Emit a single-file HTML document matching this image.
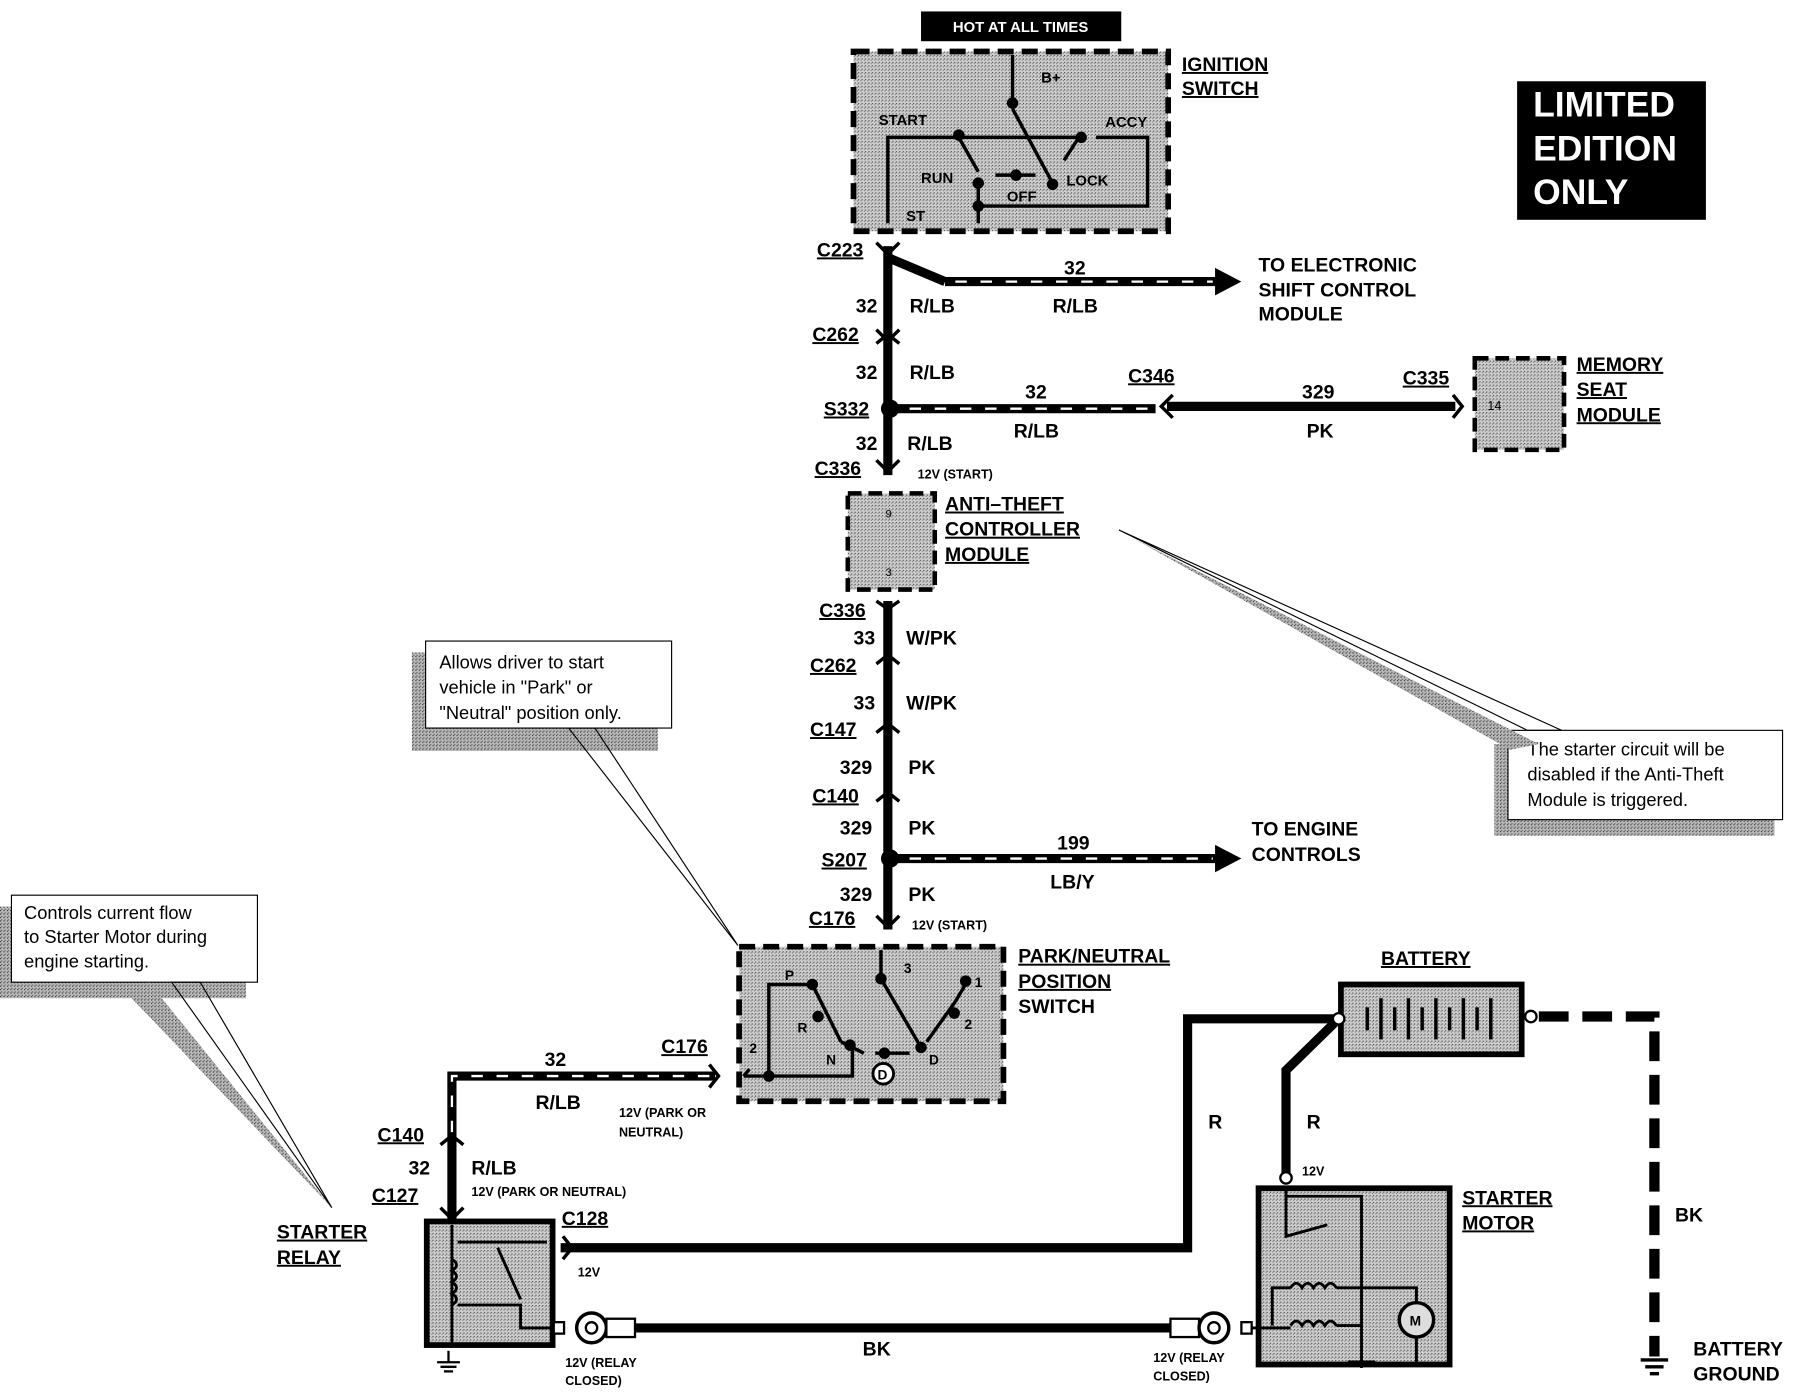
<!DOCTYPE html>
<html><head><meta charset="utf-8"><style>
html,body{margin:0;padding:0;background:#fff;}
svg{display:block}
text{font-family:"Liberation Sans",Arial,sans-serif;font-weight:bold;fill:#000}
</style></head><body>
<svg width="1794" height="1392" viewBox="0 0 1568 1216" preserveAspectRatio="none" xmlns="http://www.w3.org/2000/svg">
<defs>
<pattern id="dot" width="3" height="3" patternUnits="userSpaceOnUse"><rect width="3" height="3" fill="#d0d0d0"/><rect width="1" height="1" fill="#444"/><rect x="2" y="1" width="1" height="1" fill="#777"/></pattern>
<pattern id="hatch" width="3" height="3" patternUnits="userSpaceOnUse"><rect width="3" height="3" fill="#bbb"/><rect width="1" height="1" fill="#333"/><rect x="1" y="2" width="1" height="1" fill="#555"/></pattern>
</defs>

<rect x="805" y="10" width="175" height="26" fill="#000"/>
<text x="892" y="28" font-size="13" text-anchor="middle" style="fill:#fff">HOT AT ALL TIMES</text>

<rect x="746" y="45" width="275" height="157" fill="url(#dot)" stroke="#000" stroke-width="5" stroke-dasharray="14,7"/>
<g stroke="#000" stroke-width="3" fill="none">
<line x1="885" y1="48" x2="885" y2="95"/><line x1="885" y1="95" x2="920" y2="160"/>
<polyline points="776,195 776,120 945,120"/>
<polyline points="855,160 855,180 1003,180 1003,120 958,120"/>
<line x1="855" y1="160" x2="855" y2="195"/>
<line x1="838" y1="120" x2="855" y2="150"/>
<line x1="870" y1="153" x2="905" y2="153"/>
<line x1="943" y1="120" x2="930" y2="140"/>
</g>
<g fill="#000"><circle cx="885" cy="90" r="5"/><circle cx="838" cy="118" r="5"/><circle cx="855" cy="160" r="5"/><circle cx="888" cy="153" r="5"/><circle cx="920" cy="161" r="5"/><circle cx="945" cy="120" r="5"/><circle cx="855" cy="180" r="5"/></g>
<g font-size="13"><text x="910" y="72">B+</text><text x="768" y="109">START</text><text x="966" y="111">ACCY</text><text x="805" y="160">RUN</text><text x="932" y="162">LOCK</text><text x="880" y="176">OFF</text><text x="792" y="193">ST</text></g>
<g font-size="17" text-decoration="underline"><text x="1033" y="62">IGNITION</text><text x="1033" y="83">SWITCH</text></g>

<rect x="1326" y="71" width="165" height="121" fill="#000"/>
<g font-size="31" style="fill:#fff"><text x="1340" y="102" style="fill:#fff">LIMITED</text><text x="1340" y="140" style="fill:#fff">EDITION</text><text x="1340" y="178" style="fill:#fff">ONLY</text></g>

<g stroke="#000" stroke-width="8" fill="none">
<line x1="776" y1="215" x2="776" y2="415"/>
<line x1="776" y1="525" x2="776" y2="812"/>
<line x1="776" y1="225" x2="826" y2="246"/>
<line x1="826" y1="246" x2="1068" y2="246"/>
<line x1="776" y1="357" x2="1010" y2="357"/>
<line x1="1020" y1="355" x2="1272" y2="355"/>
<line x1="776" y1="750" x2="1068" y2="750"/>
<polyline points="625,940 395,940 395,1065"/>
<polyline points="490,1090 1038,1090 1038,890 1170,890"/>
<polyline points="1170,890 1124,935 1124,1025"/>
<line x1="555" y1="1160" x2="1025" y2="1160"/>
</g>
<g stroke="#fff" stroke-width="2" stroke-dasharray="10,12" fill="none">
<line x1="835" y1="246" x2="1060" y2="246"/>
<line x1="795" y1="357" x2="1005" y2="357"/>
<line x1="795" y1="750" x2="1060" y2="750"/>
<polyline points="620,940 395,940 395,1000"/>
</g>
<g fill="#000">
<polygon points="1062,234 1085,246 1062,258"/><polygon points="1062,738 1085,750 1062,762"/>
<circle cx="778" cy="357" r="8"/><circle cx="778" cy="750" r="8"/>
</g>
<g stroke="#000" stroke-width="3" fill="none">
<polyline points="766,212 776,222 786,212"/><polyline points="766,288 776,298 786,288"/><polyline points="766,300 776,292 786,300"/>
<polyline points="766,402 776,412 786,402"/>
<polyline points="766,525 776,532 786,525"/><polyline points="766,580 776,572 786,580"/><polyline points="766,640 776,632 786,640"/>
<polyline points="766,700 776,692 786,700"/><polyline points="766,800 776,810 786,800"/>
<polyline points="1025,345 1015,355 1025,365"/><polyline points="1270,345 1278,355 1270,365"/>
<polyline points="620,930 628,940 620,950"/>
<polyline points="385,1000 395,992 405,1000"/><polyline points="385,1055 395,1065 405,1055"/>
<polyline points="492,1080 500,1090 492,1100"/>
</g>
<g font-size="17">
<text x="714" y="224" text-decoration="underline">C223</text>
<text x="748" y="273">32</text><text x="795" y="273">R/LB</text>
<text x="930" y="240">32</text><text x="920" y="273">R/LB</text>
<text x="1100" y="237">TO ELECTRONIC</text><text x="1100" y="259">SHIFT CONTROL</text><text x="1100" y="280">MODULE</text>
<text x="710" y="298" text-decoration="underline">C262</text>
<text x="748" y="331">32</text><text x="795" y="331">R/LB</text>
<text x="720" y="363" text-decoration="underline">S332</text>
<text x="896" y="348">32</text><text x="886" y="382">R/LB</text>
<text x="986" y="334" text-decoration="underline">C346</text>
<text x="1138" y="348">329</text><text x="1142" y="382">PK</text>
<text x="1226" y="336" text-decoration="underline">C335</text>
<text x="748" y="393">32</text><text x="793" y="393">R/LB</text>
<text x="712" y="415" text-decoration="underline">C336</text>
<text x="1378" y="324" text-decoration="underline">MEMORY</text><text x="1378" y="346" text-decoration="underline">SEAT</text><text x="1378" y="368" text-decoration="underline">MODULE</text>
<text x="826" y="446" text-decoration="underline">ANTI–THEFT</text><text x="826" y="468" text-decoration="underline">CONTROLLER</text><text x="826" y="490" text-decoration="underline">MODULE</text>
<text x="716" y="539" text-decoration="underline">C336</text>
<text x="746" y="563">33</text><text x="792" y="563">W/PK</text>
<text x="708" y="587" text-decoration="underline">C262</text>
<text x="746" y="620">33</text><text x="792" y="620">W/PK</text>
<text x="708" y="643" text-decoration="underline">C147</text>
<text x="734" y="676">329</text><text x="794" y="676">PK</text>
<text x="710" y="701" text-decoration="underline">C140</text>
<text x="734" y="729">329</text><text x="794" y="729">PK</text>
<text x="718" y="757" text-decoration="underline">S207</text>
<text x="924" y="742">199</text><text x="918" y="776">LB/Y</text>
<text x="1094" y="730">TO ENGINE</text><text x="1094" y="752">CONTROLS</text>
<text x="734" y="787">329</text><text x="794" y="787">PK</text>
<text x="707" y="808" text-decoration="underline">C176</text>
<text x="890" y="841" text-decoration="underline">PARK/NEUTRAL</text><text x="890" y="863" text-decoration="underline">POSITION</text><text x="890" y="885">SWITCH</text>
<text x="476" y="931">32</text><text x="468" y="969">R/LB</text>
<text x="578" y="920" text-decoration="underline">C176</text>
<text x="330" y="997" text-decoration="underline">C140</text>
<text x="357" y="1026">32</text><text x="412" y="1026">R/LB</text>
<text x="325" y="1050" text-decoration="underline">C127</text>
<text x="491" y="1070" text-decoration="underline">C128</text>
<text x="242" y="1082" text-decoration="underline">STARTER</text><text x="242" y="1104" text-decoration="underline">RELAY</text>
<text x="1207" y="843" text-decoration="underline">BATTERY</text>
<text x="1056" y="986">R</text><text x="1142" y="986">R</text>
<text x="1278" y="1052" text-decoration="underline">STARTER</text><text x="1278" y="1074" text-decoration="underline">MOTOR</text>
<text x="1464" y="1067">BK</text>
<text x="754" y="1184">BK</text>
<text x="1480" y="1184">BATTERY</text><text x="1480" y="1206">GROUND</text>
</g>
<g font-size="11">
<text x="802" y="418">12V (START)</text><text x="797" y="812">12V (START)</text>
<text x="541" y="976">12V (PARK OR</text><text x="541" y="993">NEUTRAL)</text>
<text x="412" y="1045">12V (PARK OR NEUTRAL)</text>
<text x="505" y="1115">12V</text><text x="1138" y="1027">12V</text>
<text x="494" y="1194">12V (RELAY</text><text x="494" y="1210">CLOSED)</text>
<text x="1008" y="1190">12V (RELAY</text><text x="1008" y="1206">CLOSED)</text>
</g>

<rect x="1289" y="313" width="78" height="80" fill="url(#dot)" stroke="#000" stroke-width="4" stroke-dasharray="12,6"/>
<text x="1300" y="358" font-size="11" style="font-weight:normal">14</text>
<rect x="741" y="431" width="76" height="84" fill="url(#dot)" stroke="#000" stroke-width="4" stroke-dasharray="12,6"/>
<text x="774" y="452" font-size="10" style="font-weight:normal">9</text><text x="774" y="503" font-size="10" style="font-weight:normal">3</text>

<rect x="646" y="827" width="231" height="135" fill="url(#dot)" stroke="#000" stroke-width="5" stroke-dasharray="14,7"/>
<g stroke="#000" stroke-width="3" fill="none">
<line x1="770" y1="830" x2="770" y2="855"/><line x1="770" y1="855" x2="805" y2="915"/>
<polyline points="650,940 672,940 672,860 710,860"/>
<polyline points="672,940 745,940 745,913"/>
<line x1="710" y1="860" x2="735" y2="910"/><line x1="735" y1="910" x2="755" y2="920"/>
<line x1="765" y1="920" x2="795" y2="920"/>
<line x1="810" y1="910" x2="835" y2="875"/><line x1="835" y1="875" x2="845" y2="858"/>
<line x1="655" y1="934" x2="650" y2="940"/>
</g>
<g fill="#000"><circle cx="770" cy="855" r="5"/><circle cx="710" cy="860" r="5"/><circle cx="715" cy="888" r="5"/><circle cx="743" cy="913" r="5"/><circle cx="773" cy="920" r="5"/><circle cx="805" cy="915" r="5"/><circle cx="834" cy="885" r="5"/><circle cx="844" cy="857" r="5"/><circle cx="672" cy="940" r="5"/></g>
<circle cx="772" cy="938" r="9" fill="#fff" stroke="#000" stroke-width="2.5"/><text x="767" y="943" font-size="12">D</text>
<g font-size="12"><text x="686" y="856">P</text><text x="790" y="850">3</text><text x="852" y="862">1</text><text x="697" y="902">R</text><text x="843" y="899">2</text><text x="655" y="920">2</text><text x="722" y="930">N</text><text x="812" y="930">D</text></g>

<rect x="373" y="1067" width="110" height="108" fill="url(#dot)" stroke="#000" stroke-width="5"/>
<g stroke="#000" stroke-width="2.5" fill="none">
<polyline points="395,1070 395,1175"/><path d="M395,1100 q8,5 0,10 q8,5 0,10 q8,5 0,10 q8,5 0,10"/>
<polyline points="400,1085 478,1085"/><line x1="435" y1="1090" x2="455" y2="1135"/>
<polyline points="400,1140 455,1140 455,1160 483,1160"/>
</g>
<g stroke="#000" stroke-width="2" fill="none"><line x1="392" y1="1180" x2="392" y2="1190"/><line x1="382" y1="1190" x2="402" y2="1190"/><line x1="385" y1="1194" x2="399" y2="1194"/><line x1="388" y1="1198" x2="396" y2="1198"/></g>
<rect x="484" y="1155" width="9" height="10" fill="#fff" stroke="#000" stroke-width="2"/>
<circle cx="517" cy="1160" r="13" fill="#fff" stroke="#000" stroke-width="3"/><circle cx="517" cy="1160" r="5" fill="#fff" stroke="#000" stroke-width="2"/>
<rect x="530" y="1152" width="25" height="16" fill="#fff" stroke="#000" stroke-width="2"/>
<rect x="1023" y="1152" width="25" height="16" fill="#fff" stroke="#000" stroke-width="2"/>
<circle cx="1061" cy="1160" r="13" fill="#fff" stroke="#000" stroke-width="3"/><circle cx="1061" cy="1160" r="5" fill="#fff" stroke="#000" stroke-width="2"/>
<rect x="1085" y="1155" width="9" height="10" fill="#fff" stroke="#000" stroke-width="2"/>

<rect x="1172" y="860" width="158" height="61" fill="url(#dot)" stroke="#000" stroke-width="5"/>
<g stroke="#000" stroke-width="3">
<line x1="1195" y1="880" x2="1195" y2="900"/><line x1="1207" y1="872" x2="1207" y2="908"/><line x1="1219" y1="880" x2="1219" y2="900"/><line x1="1231" y1="872" x2="1231" y2="908"/><line x1="1243" y1="880" x2="1243" y2="900"/><line x1="1255" y1="872" x2="1255" y2="908"/><line x1="1267" y1="880" x2="1267" y2="900"/><line x1="1279" y1="872" x2="1279" y2="908"/><line x1="1291" y1="880" x2="1291" y2="900"/><line x1="1303" y1="872" x2="1303" y2="908"/>
</g>
<circle cx="1170" cy="890" r="5" fill="#fff" stroke="#000" stroke-width="2"/><circle cx="1338" cy="888" r="5" fill="#fff" stroke="#000" stroke-width="2"/>
<polyline points="1345,888 1446,888 1446,1185" fill="none" stroke="#000" stroke-width="9" stroke-dasharray="26,12"/>
<g stroke="#000" stroke-width="3"><line x1="1434" y1="1188" x2="1458" y2="1188"/><line x1="1438" y1="1194" x2="1454" y2="1194"/><line x1="1442" y1="1200" x2="1450" y2="1200"/></g>

<rect x="1100" y="1038" width="167" height="154" fill="url(#dot)" stroke="#000" stroke-width="5"/>
<circle cx="1124" cy="1029" r="5" fill="#fff" stroke="#000" stroke-width="2"/>
<g stroke="#000" stroke-width="2.5" fill="none">
<polyline points="1124,1040 1124,1080 1160,1070"/><polyline points="1124,1045 1190,1045 1190,1195"/>
<path d="M1128,1125 q5,-8 10,0 q5,-8 10,0 q5,-8 10,0 q5,-8 10,0"/>
<path d="M1128,1158 q5,-8 10,0 q5,-8 10,0 q5,-8 10,0 q5,-8 10,0"/>
<polyline points="1112,1158 1112,1125 1128,1125"/><polyline points="1168,1125 1238,1125 1238,1140"/>
<line x1="1094" y1="1160" x2="1128" y2="1160"/><line x1="1168" y1="1158" x2="1190" y2="1158"/>
<line x1="1238" y1="1168" x2="1238" y2="1190"/>
</g>
<circle cx="1238" cy="1153" r="15" fill="#ddd" stroke="#000" stroke-width="3"/><text x="1232" y="1158" font-size="12">M</text>
<g stroke="#000" stroke-width="3"><line x1="1178" y1="1190" x2="1202" y2="1190"/><line x1="1228" y1="1192" x2="1250" y2="1192"/></g>

<rect x="360" y="570" width="215" height="86" fill="url(#hatch)"/>
<rect x="372" y="560" width="215" height="76" fill="#fff" stroke="#000" stroke-width="1"/>
<g font-size="16"><text x="384" y="584" style="font-weight:normal">Allows driver to start</text><text x="384" y="606" style="font-weight:normal">vehicle in "Park" or</text><text x="384" y="628" style="font-weight:normal">"Neutral" position only.</text></g>
<polygon points="497,636 645,826 520,636" fill="none" stroke="#000" stroke-width="1"/>

<rect x="0" y="792" width="215" height="80" fill="url(#hatch)"/>
<rect x="10" y="782" width="215" height="76" fill="#fff" stroke="#000" stroke-width="1"/>
<g font-size="16"><text x="21" y="803" style="font-weight:normal">Controls current flow</text><text x="21" y="824" style="font-weight:normal">to Starter Motor during</text><text x="21" y="845" style="font-weight:normal">engine starting.</text></g>
<polygon points="130,858 115,872 290,1055" fill="url(#hatch)"/>
<polygon points="150,858 290,1055 175,858" fill="none" stroke="#000" stroke-width="1"/>

<rect x="1306" y="650" width="245" height="80" fill="url(#hatch)"/>
<rect x="1318" y="638" width="240" height="78" fill="#fff" stroke="#000" stroke-width="1"/>
<g font-size="16"><text x="1335" y="660" style="font-weight:normal">The starter circuit will be</text><text x="1335" y="682" style="font-weight:normal">disabled if the Anti-Theft</text><text x="1335" y="704" style="font-weight:normal">Module is triggered.</text></g>
<polygon points="1345,650 1320,655 990,470" fill="url(#hatch)"/>
<polygon points="1365,638 978,463 1335,638" fill="none" stroke="#000" stroke-width="1"/>
</svg>
</body></html>
